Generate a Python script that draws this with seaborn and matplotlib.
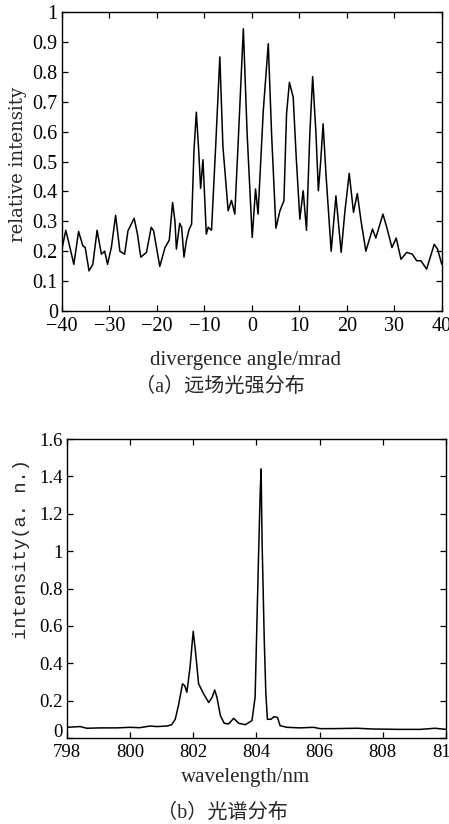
import matplotlib
matplotlib.use("Agg")
import matplotlib.pyplot as plt
import matplotlib.transforms as mtransforms
import seaborn as sns
import pandas as pd

# (a) far field: divergence angle (mrad) vs relative intensity
angle = [-40, -39.2, -38.4, -37.5, -36.5, -35.6, -35.1, -34.3, -33.5, -32.6,
         -31.7, -31.0, -30.4, -29.6, -28.7, -27.8, -26.8, -26.1, -24.8, -24.1,
         -23.4, -22.2, -21.2, -20.7, -19.4, -18.3, -17.4, -16.7, -16.2, -15.9,
         -15.2, -14.8, -14.3, -13.8, -13.2, -12.7, -12.2, -11.7, -11.2, -10.8,
         -10.3, -9.6, -9.2, -8.5, -7.6, -6.75, -6.1, -5.0, -4.3, -3.6,
         -2.9, -1.8, -1.0, 0.07, 0.77, 1.3, 2.4, 3.45, 4.15, 5.06,
         5.9, 6.75, 7.3, 7.9, 8.7, 9.3, 10.1, 10.8, 11.5, 12.2,
         12.8, 13.5, 14.0, 14.5, 15.0, 15.6, 16.7, 17.7, 18.8, 19.6,
         20.5, 21.4, 22.2, 23.0, 24.0, 25.4, 26.1, 27.6, 28.4, 29.5,
         30.4, 31.4, 32.6, 33.8, 34.7, 35.6, 36.8, 38.4, 39.1, 40]
rel_int = [0.207, 0.27, 0.218, 0.156, 0.266, 0.218, 0.212, 0.134, 0.156, 0.27,
           0.19, 0.20, 0.156, 0.212, 0.32, 0.20, 0.19, 0.268, 0.31, 0.257,
           0.18, 0.196, 0.28, 0.268, 0.149, 0.212, 0.237, 0.363, 0.30, 0.207,
           0.293, 0.28, 0.18, 0.235, 0.274, 0.29, 0.536, 0.665, 0.536, 0.41,
           0.506, 0.257, 0.28, 0.27, 0.56, 0.85, 0.55, 0.335, 0.37, 0.324,
           0.56, 0.944, 0.592, 0.246, 0.408, 0.324, 0.67, 0.894, 0.592, 0.277,
           0.335, 0.369, 0.66, 0.765, 0.715, 0.525, 0.307, 0.402, 0.27, 0.592,
           0.784, 0.592, 0.402, 0.503, 0.626, 0.458, 0.20, 0.385, 0.196, 0.335,
           0.46, 0.33, 0.393, 0.30, 0.20, 0.274, 0.244, 0.324, 0.28, 0.212,
           0.244, 0.173, 0.196, 0.19, 0.168, 0.168, 0.14, 0.223, 0.207, 0.156]

# (b) spectrum: wavelength (nm) vs intensity (a.n.)
wavelength = [798, 798.42, 798.63, 799.06, 799.58, 800.0, 800.3, 800.64, 800.85, 801.17,
              801.32, 801.43, 801.54, 801.66, 801.73, 801.8, 801.9, 802.0, 802.08, 802.17,
              802.33, 802.49, 802.6, 802.68, 802.75, 802.86, 802.98, 803.12, 803.28, 803.44,
              803.65, 803.86, 803.96, 804.07, 804.12, 804.15, 804.18, 804.25, 804.3, 804.35,
              804.46, 804.56, 804.67, 804.75, 804.97, 805.39, 805.81, 806.02, 806.44, 807.18,
              807.7, 808.55, 809.19, 809.66, 810]
intensity = [0.057, 0.061, 0.052, 0.054, 0.054, 0.057, 0.055, 0.064, 0.061, 0.064,
             0.071, 0.10, 0.18, 0.29, 0.28, 0.245, 0.38, 0.571, 0.45, 0.29,
             0.236, 0.19, 0.218, 0.257, 0.218, 0.12, 0.079, 0.075, 0.105, 0.079,
             0.071, 0.093, 0.218, 0.986, 1.307, 1.44, 1.057, 0.52, 0.236, 0.10,
             0.10, 0.114, 0.11, 0.066, 0.057, 0.054, 0.057, 0.05, 0.05, 0.052,
             0.048, 0.046, 0.046, 0.052, 0.046]

a_xticks = [-40, -30, -20, -10, 0, 10, 20, 30, 40]
a_yticks = [0, 0.1, 0.2, 0.3, 0.4, 0.5, 0.6, 0.7, 0.8, 0.9, 1.0]
a_ylabels = ["0", "0.1", "0.2", "0.3", "0.4", "0.5", "0.6", "0.7", "0.8", "0.9", "1"]
b_xticks = [798, 800, 802, 804, 806, 808, 810]
b_yticks = [0, 0.2, 0.4, 0.6, 0.8, 1.0, 1.2, 1.4, 1.6]
b_ylabels = ["0", "0.2", "0.4", "0.6", "0.8", "1", "1.2", "1.4", "1.6"]

sns.set_theme(style="ticks")
plt.rcParams['font.family'] = ['Liberation Serif', 'Noto Sans CJK SC']
plt.rcParams['axes.linewidth'] = 1.0

fig = plt.figure(figsize=(4.49, 8.24), dpi=100)
ax1 = fig.add_axes([0.138, 0.6226, 0.846, 0.3628])
ax2 = fig.add_axes([0.149, 0.1044, 0.844, 0.3628])

df_a = pd.DataFrame({'angle': angle, 'rel': rel_int})
df_b = pd.DataFrame({'wl': wavelength, 'inten': intensity})

sns.lineplot(data=df_a, x='angle', y='rel', ax=ax1, color='black', linewidth=1.1)
sns.lineplot(data=df_b, x='wl', y='inten', ax=ax2, color='black', linewidth=1.1)

ax1.set_xlim(-40, 40)
ax1.set_ylim(0, 1)
ax1.set_xticks(a_xticks)
ax1.set_yticks(a_yticks)
ax1.set_yticklabels(a_ylabels)

ax2.set_xlim(798, 810)
ax2.set_ylim(0, 1.6)
ax2.set_xticks(b_xticks)
ax2.set_yticks(b_yticks)
ax2.set_yticklabels(b_ylabels)

for ax, fs in ((ax1, 14.5), (ax2, 13.5)):
    ax.set_xlabel('')
    ax.set_ylabel('')
    for s in ax.spines.values():
        s.set_visible(True)
        s.set_color('black')
    ax.tick_params(direction='in', length=4, width=0.9, top=True, right=True,
                   labelsize=fs, colors='black', pad=3)
    ax.tick_params(axis='x', pad=4)

# lift the "0" label of the spectrum a little, as in the original
lab0 = ax2.get_yticklabels()[0]
lab0.set_transform(lab0.get_transform() + mtransforms.ScaledTranslation(0, 7 / 100, fig.dpi_scale_trans))

fig.text(0.04, 0.80, 'relative intensity', rotation=90, ha='center', va='center',
         fontsize=13, family='DejaVu Serif')
fig.text(0.047, 0.334, 'intensity(a. n.)', rotation=90, ha='center', va='center',
         fontsize=13.5, family='Liberation Mono')
fig.text(0.546, 0.563, 'divergence angle/mrad', ha='center', va='center', fontsize=15)
fig.text(0.49, 0.530, '（a）远场光强分布', ha='center', va='center', fontsize=14.5)
fig.text(0.546, 0.056, 'wavelength/nm', ha='center', va='center', fontsize=15)
fig.text(0.495, 0.013, '（b）光谱分布', ha='center', va='center', fontsize=14.5)

fig.savefig('out.png', dpi=100)
